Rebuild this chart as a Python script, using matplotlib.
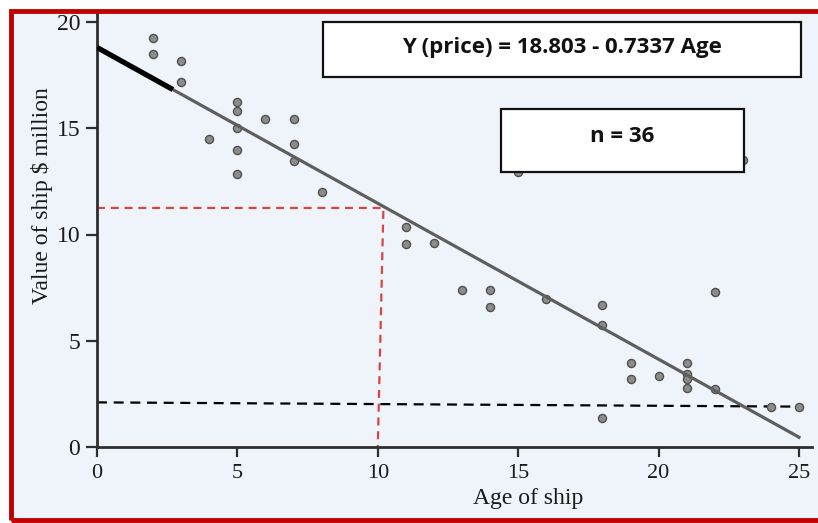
import matplotlib
matplotlib.use("Agg")
from matplotlib import pyplot as plt
from matplotlib.patches import Rectangle

# ship age vs value
ages = [2, 2, 3, 3, 4, 5, 5, 5, 5, 5, 6, 7, 7, 7, 8, 11, 11, 12, 13, 14, 14, 16,
        18, 18, 18, 19, 19, 20, 21, 21, 21, 21, 22, 22, 24, 25]
values = [19.25, 18.5, 18.15, 17.2, 14.5, 16.25, 15.8, 15.0, 14.0, 12.85, 15.45,
          15.45, 14.25, 13.45, 12.0, 10.35, 9.55, 9.6, 7.4, 7.4, 6.6, 6.95,
          6.7, 5.75, 1.35, 3.95, 3.2, 3.35, 3.95, 3.45, 3.2, 2.8, 7.3, 2.75, 1.9, 1.9]
# points that sit mostly behind the n box
hidden_ages = [15, 23]
hidden_values = [12.95, 13.5]

intercept = 18.803
slope = -0.7337
fit_x = [0, 25]
bold_x = [0, 2.7]

guide_red_x = [0, 10.2, 10.0]
guide_red_y = [11.25, 11.25, 0]
guide_black_x = [0, 25]
guide_black_y = [2.1, 1.9]

xticks = [0, 5, 10, 15, 20, 25]
yticks = [0, 5, 10, 15, 20]

bg = '#EEF4FA'
W, H = 818, 523

fig = plt.figure(figsize=(W / 100, H / 100), dpi=100)
fig.patch.set_facecolor('white')

# light blue page inside the red frame
fig.patches.append(Rectangle((11 / W, 1 - 520 / H), 2, (520 - 11) / H,
                             transform=fig.transFigure, facecolor=bg,
                             edgecolor='none', zorder=0))

ax = fig.add_axes([97 / W, 1 - 447 / H, (812 - 97) / W, (447 - 13) / H])
ax.set_zorder(1)
ax.set_facecolor(bg)
ax.set_xlim(0, (812 - 97) / 28.08)
ax.set_ylim(0, (447 - 13) / 21.25)

ax.plot(guide_red_x, guide_red_y, color='#D9453F', lw=1.6, dashes=(3.6, 2.6), zorder=2)
ax.plot(guide_black_x, guide_black_y, color='black', lw=1.6, dashes=(4.5, 3), zorder=2)

ax.scatter(ages, values, s=34, color='#8C8C8C', edgecolors='#505050', linewidths=1.0, zorder=3)
ax.scatter(hidden_ages, hidden_values, s=34, color='#8C8C8C', edgecolors='#505050',
           linewidths=1.0, zorder=3)

ax.plot(fit_x, [intercept + slope * x for x in fit_x], color='#5E5E5E', lw=2.3, zorder=4)
ax.plot(bold_x, [intercept + slope * x for x in bold_x], color='black', lw=3.8,
        solid_capstyle='butt', zorder=5)

for side in ['top', 'right']:
    ax.spines[side].set_visible(False)
for side in ['left', 'bottom']:
    ax.spines[side].set_color('#2E2E2E')
    ax.spines[side].set_linewidth(2.0)

ax.set_xticks(xticks)
ax.set_yticks(yticks)
ax.set_xticklabels([str(t) for t in xticks])
ax.set_yticklabels([str(t) for t in yticks])
ax.tick_params(axis='both', colors='#2E2E2E', width=1.6, labelcolor='#1A1A1A',
               direction='out')
ax.tick_params(axis='x', length=7, pad=5, labelsize=16)
ax.tick_params(axis='y', length=8, pad=4, labelsize=17)
for lab in ax.get_xticklabels() + ax.get_yticklabels():
    lab.set_family('Liberation Serif')

ax.set_xlabel('Age of ship', family='Liberation Serif', fontsize=17, color='#1A1A1A')
ax.set_ylabel('Value of ship $ million', family='Liberation Serif', fontsize=17,
              color='#1A1A1A')
ax.xaxis.set_label_coords(0.603, -0.094)
ax.yaxis.set_label_coords(-0.0615, 0.58)

# text boxes
fig.patches.append(Rectangle((323 / W, 1 - 77 / H), (801 - 323) / W, (77 - 22) / H,
                             transform=fig.transFigure, facecolor='white',
                             edgecolor='#111111', lw=1.6, zorder=10))
fig.text(562 / W, 1 - 47 / H, 'Y (price) = 18.803 - 0.7337 Age', ha='center', va='center',
         family='Open Sans', weight='bold', fontsize=16, color='#111111', zorder=11)

fig.patches.append(Rectangle((501 / W, 1 - 172 / H), (744 - 501) / W, (172 - 109) / H,
                             transform=fig.transFigure, facecolor='white',
                             edgecolor='#111111', lw=1.6, zorder=10))
fig.text(622 / W, 1 - 136 / H, 'n = 36', ha='center', va='center',
         family='Open Sans', weight='bold', fontsize=16, color='#111111', zorder=11)

# red frame, cut off on the right like the original
fig.patches.append(Rectangle((11 / W, 1 - 520 / H), 2, (520 - 11) / H,
                             transform=fig.transFigure, facecolor='none',
                             edgecolor='#C00000', lw=3.5, zorder=20))

fig.savefig('out.png', dpi=100)
